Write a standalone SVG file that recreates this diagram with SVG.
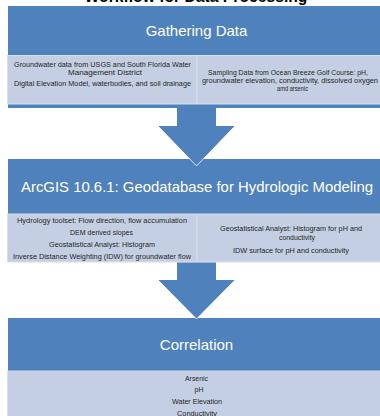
<svg xmlns="http://www.w3.org/2000/svg" width="380" height="416" viewBox="0 0 380 416">
<style>
.hdr{fill:#4F81BD}
.pnl{fill:#C4CFE3;stroke:#D8DFEC;stroke-width:1}
.div{stroke:#D8DFEC;stroke-width:1}
.ttl{font-family:"Liberation Sans",Arial,sans-serif;font-size:15px;fill:#FFFFFF;text-anchor:middle}
.sm{font-family:"Liberation Sans",Arial,sans-serif;font-size:7px;fill:#262626;text-anchor:middle}
.arrow{fill:#4F81BD}
.edge{fill:none;stroke:#FFFFFF;stroke-width:0.8}
</style>
<rect width="380" height="416" fill="#FFFFFF"/>
<g id="title">
<text x="196" y="2" font-family="'Liberation Sans',Arial,sans-serif" font-size="15.7" font-weight="bold" fill="#000" text-anchor="middle">Workflow for Data Processing</text>
</g>
<g id="gathering">
<rect class="hdr" x="8" y="6" width="382" height="102"/>
<rect class="pnl" x="7.5" y="55.5" width="390" height="48.5"/>
<line class="div" x1="197" y1="56" x2="197" y2="104"/>
<text class="ttl" x="196.5" y="35.5">Gathering Data</text>
<text class="sm" x="102.5" y="66.5" textLength="177" lengthAdjust="spacingAndGlyphs">Groundwater data from USGS and South Florida Water</text>
<text class="sm" x="105" y="74.5" textLength="74" lengthAdjust="spacingAndGlyphs">Management District</text>
<text class="sm" x="102.5" y="85.5" textLength="177" lengthAdjust="spacingAndGlyphs">Digital Elevation Model, waterbodies, and soil drainage</text>
<text class="sm" x="288" y="75" textLength="160" lengthAdjust="spacingAndGlyphs">Sampling Data from Ocean Breeze Golf Course: pH,</text>
<text class="sm" x="290" y="83" textLength="176" lengthAdjust="spacingAndGlyphs">groundwater elevation, conductivity, dissolved oxygen</text>
<text class="sm" x="292.5" y="91" textLength="31" lengthAdjust="spacingAndGlyphs">amd arsenic</text>
</g>
<g id="arcgis">
<rect class="hdr" x="8" y="159" width="382" height="55"/>
<rect class="pnl" x="7.5" y="214" width="390" height="48"/>
<line class="div" x1="197" y1="214.5" x2="197" y2="262"/>
<text class="ttl" x="197" y="192" textLength="352" lengthAdjust="spacingAndGlyphs">ArcGIS 10.6.1: Geodatabase for Hydrologic Modeling</text>
<text class="sm" x="102" y="222.5" textLength="170" lengthAdjust="spacingAndGlyphs">Hydrology toolset: Flow direction, flow accumulation</text>
<text class="sm" x="101.5" y="234.5" textLength="63" lengthAdjust="spacingAndGlyphs">DEM derived slopes</text>
<text class="sm" x="102" y="247" textLength="106" lengthAdjust="spacingAndGlyphs">Geostatistical Analyst: Histogram</text>
<text class="sm" x="102" y="259" textLength="178" lengthAdjust="spacingAndGlyphs">Inverse Distance Weighting (IDW) for groundwater flow</text>
<text class="sm" x="291" y="230.5" textLength="142" lengthAdjust="spacingAndGlyphs">Geostatistical Analyst: Histogram for pH and</text>
<text class="sm" x="297" y="239.5" textLength="36" lengthAdjust="spacingAndGlyphs">conductivity</text>
<text class="sm" x="291" y="252.5" textLength="116" lengthAdjust="spacingAndGlyphs">IDW surface for pH and conductivity</text>
</g>
<g id="correlation">
<rect class="hdr" x="8" y="318" width="382" height="53"/>
<rect class="pnl" x="7.5" y="371" width="390" height="50"/>
<text class="ttl" x="196.5" y="350">Correlation</text>
<text class="sm" x="196.5" y="380.5" textLength="23" lengthAdjust="spacingAndGlyphs">Arsenic</text>
<text class="sm" x="199" y="391.5">pH</text>
<text class="sm" x="197" y="403.5" textLength="50" lengthAdjust="spacingAndGlyphs">Water Elevation</text>
<text class="sm" x="197" y="415.5" textLength="40" lengthAdjust="spacingAndGlyphs">Conductivity</text>
</g>
<g id="connectors">
<polygon class="arrow" points="177,108 216,108 216,126 235,126 196.5,166 158,126 177,126"/>
<polyline class="edge" points="158,126 196.5,166 235,126"/>
<polygon class="arrow" points="177,262.5 216,262.5 216,280 235,280 196.5,319 158,280 177,280"/>
<polyline class="edge" points="158,280 196.5,319 235,280"/>
</g>
</svg>
